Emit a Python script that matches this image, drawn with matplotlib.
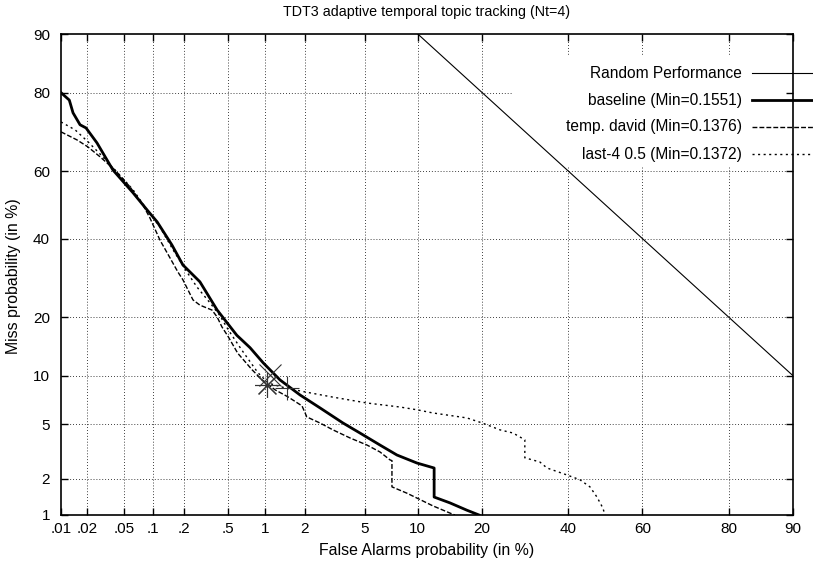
import numpy as np
import matplotlib
matplotlib.use('Agg')
from matplotlib import pyplot as plt
from matplotlib.lines import Line2D
from matplotlib.patches import Rectangle
from statistics import NormalDist

plt.rcParams['font.family'] = ['Liberation Sans', 'DejaVu Sans']

# values in percent
rand_fa = [10, 20, 40, 60, 80, 90]
rand_miss = [90, 80, 60, 40, 20, 10]

baseline_fa = [0.01, 0.0125, 0.0138, 0.0166, 0.0194, 0.0257, 0.0384, 0.0626, 0.087, 0.11,
               0.153, 0.195, 0.28, 0.40, 0.59, 0.76, 0.97, 1.31, 1.85, 2.56,
               3.65, 4.68, 6.18, 7.72, 9.9, 12.1, 12.1, 14.4, 17.2, 19.4]
baseline_miss = [80.0, 78.4, 75.5, 72.6, 71.8, 67.9, 60.3, 53.6, 48.5, 44.9,
                 38.2, 32.6, 28.2, 21.5, 16.4, 14.2, 11.8, 9.46, 7.69, 6.39,
                 5.09, 4.35, 3.58, 3.03, 2.64, 2.42, 1.42, 1.27, 1.10, 1.0]

temp_fa = [0.01, 0.0153, 0.0204, 0.0277, 0.0404, 0.058, 0.079, 0.093, 0.117, 0.147,
           0.175, 0.195, 0.242, 0.28, 0.36, 0.40, 0.44, 0.50, 0.60, 0.79,
           0.95, 1.20, 1.51, 1.91, 2.07, 2.56, 3.14, 4.05, 5.17, 6.18,
           7.05, 7.24, 7.24, 8.74, 10.3, 11.9, 14.4, 15.2]
temp_miss = [70.8, 68.7, 66.8, 64.1, 60.3, 55.4, 50.0, 46.1, 39.6, 34.5,
             30.7, 28.7, 23.8, 22.6, 21.5, 20.0, 18.0, 16.1, 13.3, 10.8,
             9.46, 8.27, 7.48, 6.58, 5.58, 5.09, 4.57, 4.02, 3.58, 3.19,
             2.79, 2.75, 1.72, 1.53, 1.35, 1.20, 1.04, 1.0]

last4_fa = [0.01, 0.0146, 0.0204, 0.0277, 0.0404, 0.0626, 0.087, 0.117, 0.157, 0.213,
            0.263, 0.346, 0.42, 0.50, 0.65, 0.88, 1.06, 1.43, 2.01, 3.09,
            5.17, 8.03, 10.0, 11.9, 17.2, 20.0, 23.6, 26.4, 29.1, 29.1,
            32.7, 34.5, 39.6, 43.1, 45.8, 47.7, 49.3, 49.9]
last4_miss = [73.3, 71.3, 68.2, 64.9, 60.3, 54.5, 48.5, 43.4, 36.8, 30.7,
              26.9, 23.1, 20.4, 17.4, 13.8, 10.4, 9.07, 8.49, 8.03, 7.48,
              6.86, 6.47, 6.20, 5.93, 5.50, 5.09, 4.57, 4.35, 3.90, 2.89,
              2.69, 2.42, 2.14, 1.96, 1.72, 1.42, 1.15, 1.0]

# minimum cost points
min_fa = [1.10, 1.04, 1.48]
min_miss = [10.1, 8.84, 8.49]

labels = ['Random Performance', 'baseline (Min=0.1551)',
          'temp. david (Min=0.1376)', 'last-4 0.5 (Min=0.1372)']

xticks = [0.01, 0.02, 0.05, 0.1, 0.2, 0.5, 1, 2, 5, 10, 20, 40, 60, 80, 90]
xticklabels = ['.01', '.02', '.05', '.1', '.2', '.5', '1', '2', '5', '10', '20', '40', '60', '80', '90']
yticks = [1, 2, 5, 10, 20, 40, 60, 80, 90]
yticklabels = ['1', '2', '5', '10', '20', '40', '60', '80', '90']

nd = NormalDist()
_ppf = np.vectorize(lambda v: nd.inv_cdf(v / 100.0), otypes=[float])
_cdf = np.vectorize(lambda z: nd.cdf(z) * 100.0, otypes=[float])


def fwd(p):
    p = np.clip(np.asarray(p, dtype=float), 1e-7, 100 - 1e-7)
    return _ppf(p)


def inv(z):
    return _cdf(np.asarray(z, dtype=float))


W, H = 813, 571
fig = plt.figure(figsize=(W / 100, H / 100), dpi=100)
ax = fig.add_axes([61 / W, 1 - 515 / H, (793 - 61) / W, (515 - 34) / H])
ax.set_xscale('function', functions=(fwd, inv))
ax.set_yscale('function', functions=(fwd, inv))
ax.set_xlim(0.01, 90)
ax.set_ylim(1, 90)

ax.set_xticks(xticks)
ax.set_xticklabels(xticklabels)
ax.set_yticks(yticks)
ax.set_yticklabels(yticklabels)
ax.minorticks_off()
ax.tick_params(direction='in', length=5, width=1, top=True, right=True, labelsize=11)
ax.tick_params(axis='x', pad=5)
ax.tick_params(axis='y', pad=8)
for s in ax.spines.values():
    s.set_linewidth(1.2)

# dotted grid
for v in xticks[1:-1]:
    ax.axvline(v, color='black', lw=0.6, dashes=(1, 2.5), zorder=0.5)
for v in yticks[1:-1]:
    ax.axhline(v, color='black', lw=0.6, dashes=(1, 2.5), zorder=0.5)

# key area hides the grid
ax.add_patch(Rectangle((0.616, 0.7256), 0.384, 0.2304, transform=ax.transAxes,
                       facecolor='white', edgecolor='none', zorder=1))

ax.plot(rand_fa, rand_miss, color='black', lw=0.8, zorder=2)
ax.plot(baseline_fa, baseline_miss, color='black', lw=2, zorder=2)
ax.plot(temp_fa, temp_miss, color='black', lw=1, dashes=(3.5, 1.5), zorder=2)
ax.plot(last4_fa, last4_miss, color='black', lw=1, dashes=(1.5, 2.5), zorder=2)

ax.plot(min_fa[0], min_miss[0], marker='x', ms=16, mew=0.8, color='#333333', zorder=3)
ax.plot(min_fa[1], min_miss[1], marker=(8, 2, 0), ms=18, mew=0.8, color='#333333', zorder=3)
ax.plot(min_fa[2], min_miss[2], marker='+', ms=17, mew=0.8, color='#333333', zorder=3)

# key, text then sample
styles = [dict(lw=0.8), dict(lw=2), dict(lw=1, dashes=(3.5, 1.5)), dict(lw=1, dashes=(1.5, 2.5))]
rows = [73, 100, 127, 154]
for lab, st, r in zip(labels, styles, rows):
    fig.text(742 / W, 1 - r / H, lab, ha='right', va='center', fontsize=11.2)
    fig.add_artist(Line2D([752 / W, 1.0], [1 - r / H, 1 - r / H], color='black',
                          transform=fig.transFigure, **st))

fig.text(427 / W, 1 - 12 / H, 'TDT3 adaptive temporal topic tracking (Nt=4)',
         ha='center', va='center', fontsize=10.3)
fig.text(427 / W, 1 - 551 / H, 'False Alarms probability (in %)',
         ha='center', va='center', fontsize=11.4)
fig.text(14 / W, 1 - 276 / H, 'Miss probability (in %)',
         ha='center', va='center', rotation=90, fontsize=11.4)

fig.savefig('out.png', dpi=100)
